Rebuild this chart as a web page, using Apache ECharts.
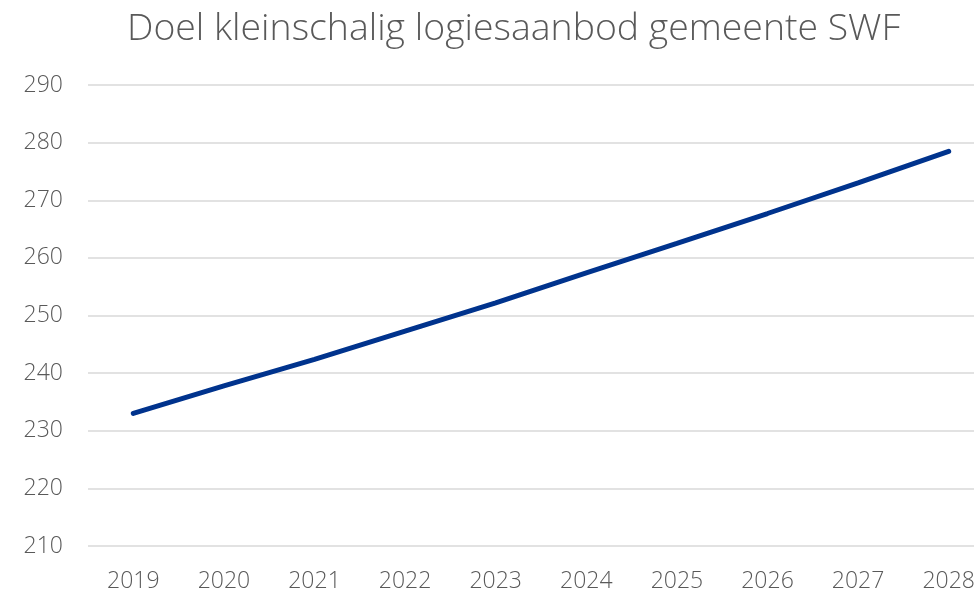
<!DOCTYPE html>
<html><head><meta charset="utf-8">
<script src="https://cdn.jsdelivr.net/npm/echarts@6/dist/echarts.min.js"></script>
<style>html,body{margin:0;padding:0;background:#fff;overflow:hidden;width:974px;height:593px}#c{width:994px;height:593px}</style>
</head><body><div id="c"></div>
<script>
const titleText = 'Doel kleinschalig logiesaanbod gemeente SWF';
const years = ['2019','2020','2021','2022','2023','2024','2025','2026','2027','2028'];
const values = [233.0, 237.8, 242.4, 247.3, 252.2, 257.4, 262.5, 267.7, 273.0, 278.5];
const yMin = 210, yMax = 290, yStep = 10;

const chart = echarts.init(document.getElementById('c'));
chart.setOption({
  animation: false,
  title: { text: titleText, left: 122, top: 6,
    textStyle: { fontFamily: 'Open Sans', fontWeight: 300, fontSize: 37.4, color: '#595959' } },
  grid: { left: 88, top: 85, bottom: 47, right: 0 },
  xAxis: { type: 'category', data: years, boundaryGap: true,
    axisLine: { show: false }, axisTick: { show: false },
    axisLabel: { fontFamily: 'Open Sans', fontWeight: 300, fontSize: 23, color: '#595959', margin: 24 } },
  yAxis: { type: 'value', min: yMin, max: yMax, interval: yStep,
    axisLine: { show: false }, axisTick: { show: false },
    splitLine: { lineStyle: { color: '#d9d9d9', width: 1.5 } },
    axisLabel: { fontFamily: 'Open Sans', fontWeight: 300, fontSize: 23, color: '#595959', margin: 25 } },
  series: [{ type: 'line', data: values, symbol: 'none',
    lineStyle: { color: '#00338D', width: 5, cap: 'round' } }]
});
</script></body></html>
